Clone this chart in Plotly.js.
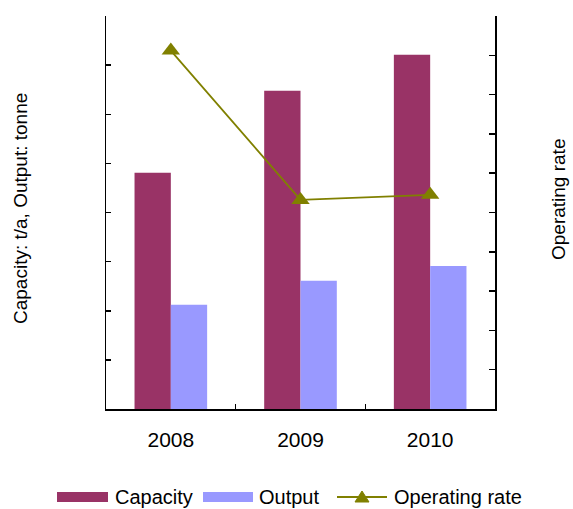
<!DOCTYPE html>
<html>
<head>
<meta charset="utf-8">
<script src="https://cdn.plot.ly/plotly-3.0.1.min.js"></script>
<style>html,body{margin:0;padding:0;background:#fff;}</style>
</head>
<body>
<div id="chart" style="width:573px;height:509px;"></div>
<script>
const years = ["2008", "2009", "2010"];
const capacity = [4.81, 6.48, 7.21];
const output = [2.12, 2.61, 2.91];
const operatingRate = [9.12, 5.32, 5.45];
const seriesNames = ["Capacity", "Output", "Operating rate"];

const fam = "Liberation Sans, Arial, sans-serif";
const font = {family: fam, size: 19, color: "#000"};
const colCap = "#993366", colOut = "#9999FF", colRate = "#808000";

const traces = [
  {type: "bar", name: seriesNames[0], x: years, y: capacity, marker: {color: colCap}},
  {type: "bar", name: seriesNames[1], x: years, y: output, marker: {color: colOut}},
  {type: "scatter", mode: "lines+markers", name: seriesNames[2], x: years, y: operatingRate,
   yaxis: "y2", line: {color: colRate, width: 1.8},
   marker: {symbol: "triangle-up", size: 16, color: colRate}}
];

// plot area geometry (pixels) used for placing the bottom legend
const M = {l: 106, r: 78, t: 16, b: 100};
const W = 573, H = 509;
const pw = W - M.l - M.r, ph = H - M.t - M.b;
const px = x => (x - M.l) / pw;
const py = y => (H - M.b - y) / ph;

const legY = 497;
const shapes = [
  {type: "rect", xref: "paper", yref: "paper", x0: px(57), x1: px(108), y0: py(502), y1: py(492),
   fillcolor: colCap, line: {width: 0}},
  {type: "rect", xref: "paper", yref: "paper", x0: px(203), x1: px(253), y0: py(502), y1: py(492),
   fillcolor: colOut, line: {width: 0}},
  {type: "line", xref: "paper", yref: "paper", x0: px(337), x1: px(387), y0: py(legY), y1: py(legY),
   line: {color: colRate, width: 1.8}},
  {type: "path", xref: "paper", yref: "paper",
   path: `M${px(355)},${py(502)} L${px(369)},${py(502)} L${px(362)},${py(491)} Z`,
   fillcolor: colRate, line: {color: colRate, width: 1}}
];

const legFont = {family: fam, size: 20, color: "#000"};
const legAnn = [[114, 0], [258, 1], [393, 2]].map(([x, i]) => ({
  text: seriesNames[i], xref: "paper", yref: "paper", x: px(x), y: py(legY),
  xanchor: "left", yanchor: "middle", showarrow: false, font: legFont, borderpad: 0
}));

const layout = {
  width: W, height: H,
  margin: {l: M.l, r: M.r, t: M.t, b: M.b, pad: 0},
  paper_bgcolor: "#fff", plot_bgcolor: "#fff",
  font: font,
  barmode: "group", bargap: 0.44, bargroupgap: 0,
  showlegend: false,
  xaxis: {type: "category", range: [-0.5, 2.5], showline: true, linecolor: "#000", linewidth: 1.5,
          ticks: "inside", tickson: "boundaries", ticklen: 5, tickcolor: "#000",
          tickfont: {family: fam, size: 21, color: "#000"},
          showgrid: false, zeroline: false, ticklabelstandoff: 11},
  yaxis: {range: [0, 8], dtick: 1, showline: true, linecolor: "#000", linewidth: 1.5,
          ticks: "inside", ticklen: 5, tickcolor: "#000", tickwidth: 1.5,
          showticklabels: false, showgrid: false, zeroline: false},
  yaxis2: {range: [0, 10], dtick: 1, overlaying: "y", side: "right", showline: true,
           linecolor: "#000", linewidth: 1.5, ticks: "inside", ticklen: 6, tickcolor: "#000",
           tickwidth: 1.5, showticklabels: false, showgrid: false, zeroline: false},
  shapes: shapes,
  annotations: [
    {text: "Capacity: t/a, Output: tonne", xref: "paper", yref: "paper",
     x: px(20), y: py(209), textangle: -90, showarrow: false, font: font,
     xanchor: "center", yanchor: "middle"},
    {text: "Operating rate", xref: "paper", yref: "paper",
     x: px(558), y: py(200), textangle: -90, showarrow: false, font: font,
     xanchor: "center", yanchor: "middle"}
  ].concat(legAnn)
};

Plotly.newPlot("chart", traces, layout, {displayModeBar: false, staticPlot: true});
</script>
</body>
</html>
